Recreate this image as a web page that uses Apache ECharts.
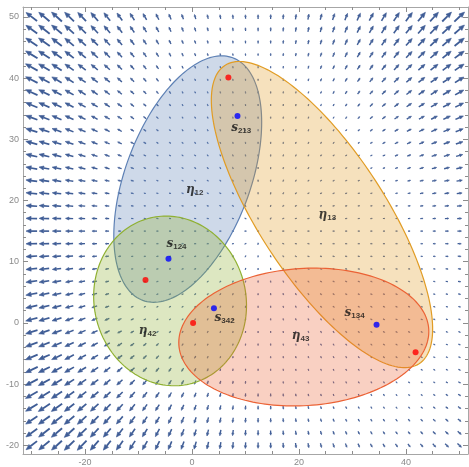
<!DOCTYPE html>
<html>
<head>
<meta charset="utf-8">
<script src="https://cdn.jsdelivr.net/npm/echarts@6/dist/echarts.min.js"></script>
<style>
  html, body { margin: 0; padding: 0; background: #ffffff; }
  #chart { width: 469px; height: 467px; }
</style>
</head>
<body>
<div id="chart"></div>
<script>
// ---- axis ticks ----
const xMajorTicks = [-20, 0, 20, 40];
const xMinorTicks = [-30, -25, -15, -10, -5, 5, 10, 15, 25, 30, 35, 45, 50];
const yMajorTicks = [-20, -10, 0, 10, 20, 30, 40, 50];
const yMinorTicks = [-18, -16, -14, -12, -8, -6, -4, -2, 2, 4, 6, 8, 12, 14, 16, 18,
                     22, 24, 26, 28, 32, 34, 36, 38, 42, 44, 46, 48];

// ---- equilibrium points ----
const redPoints  = [[6.8, 40.1], [-8.7, 7.0], [0.2, 0.0], [41.8, -4.8]];
const bluePoints = [[8.5, 33.8], [-4.4, 10.5], [4.1, 2.4], [34.5, -0.3]];

// ---- regions: centre and two conjugate semi-axis vectors ----
const regionCentres = [[-0.8, 23.5], [24.3, 17.7], [-4.1, 3.6], [20.9, -2.3]];
const regionAxisA   = [[8.41, 19.81], [18.15, -24.36], [-3.63, 13.57], [23.36, 1.29]];
const regionAxisB   = [[10.97, -3.54], [9.93, 5.62], [13.82, 2.80], [0.80, -11.18]];

// ---- labels ----
const labelSymbols = ['η', 's', 'η', 's', 'η', 's', 'η', 's'];
const labelIndices = ['12', '213', '13', '124', '42', '342', '43', '134'];
const labelPlaces  = [[0.5, 21.7], [9.2, 31.8], [25.3, 17.7], [-2.9, 12.9],
                      [-8.3, -1.3], [6.1, 0.9], [20.3, -2.1], [30.4, 1.7]];

// ---- flow field: outward from a source, damped near the wells ----
const fieldSource = [13, 15];
const fieldWells  = [[41.8, -4.8], [6.8, 40.1], [-8.7, 7.0]];
const wellDepth   = [0.85, 0.6, 0.5];
const wellWidth   = [22, 16, 8];
const fieldXRange = [-30, 50];
const fieldYRange = [-20, 50];
const fieldPoints = 35;

function flow(x, y) {
  const dx = x - fieldSource[0], dy = y - fieldSource[1];
  const r = Math.hypot(dx, dy);
  let damp = 1;
  fieldWells.forEach((w, i) => {
    const d2 = (x - w[0]) ** 2 + (y - w[1]) ** 2;
    damp *= 1 - wellDepth[i] * Math.exp(-d2 / (2 * wellWidth[i] ** 2));
  });
  const mag = 0.42 * Math.max(r - 16, 0) * damp;
  const sx = Math.sign(dx) * Math.pow(Math.abs(dx), 1.2);
  const sy = Math.sign(dy) * Math.pow(Math.abs(dy), 1.2);
  const n = Math.hypot(sx, sy) || 1;
  return [sx / n, sy / n, mag];
}

const arrowData = [];
for (let i = 0; i < fieldPoints; i++) {
  for (let j = 0; j < fieldPoints; j++) {
    const x = fieldXRange[0] + i * (fieldXRange[1] - fieldXRange[0]) / (fieldPoints - 1);
    const y = fieldYRange[0] + j * (fieldYRange[1] - fieldYRange[0]) / (fieldPoints - 1);
    const v = flow(x, y);
    arrowData.push([x, y, v[0], v[1], v[2]]);
  }
}

const regionData = regionCentres.map((c, i) => [c[0], c[1], i]);
const labelData = labelPlaces.map((p, i) => ({ value: p, sym: labelSymbols[i], idx: labelIndices[i] }));

const arrowColor = '#3f5d96';
const regionStroke = ['#5E81B5', '#E19C24', '#8FB032', '#EB6235'];
const regionFill = ['rgba(94,129,181,0.3)', 'rgba(225,156,36,0.3)', 'rgba(143,176,50,0.3)', 'rgba(235,98,53,0.3)'];
const frameColor = '#a6a6a6';
const tickColor = '#8c8c8c';
const X_MIN = -31.6, X_MAX = 51.6, Y_MIN = -21.4, Y_MAX = 51.6;

function xAxisDef(position, ticks, len, line, labels) {
  return {
    type: 'value', min: X_MIN, max: X_MAX, position: position,
    axisLine: { show: line, onZero: false, lineStyle: { color: frameColor, width: 1 } },
    axisTick: { show: true, inside: true, length: len, customValues: ticks, lineStyle: { color: tickColor } },
    axisLabel: labels ? { show: true, customValues: ticks, color: '#8a8a8a', fontSize: 9, margin: 4, fontFamily: 'Liberation Sans' } : { show: false },
    splitLine: { show: false }
  };
}
function yAxisDef(position, ticks, len, line, labels) {
  return {
    type: 'value', min: Y_MIN, max: Y_MAX, position: position,
    axisLine: { show: line, onZero: false, lineStyle: { color: frameColor, width: 1 } },
    axisTick: { show: true, inside: true, length: len, customValues: ticks, lineStyle: { color: tickColor } },
    axisLabel: labels ? { show: true, customValues: ticks, color: '#8a8a8a', fontSize: 9, margin: 4, fontFamily: 'Liberation Sans' } : { show: false },
    splitLine: { show: false }
  };
}

const chart = echarts.init(document.getElementById('chart'), null, { renderer: 'canvas' });
chart.setOption({
  animation: false,
  backgroundColor: '#ffffff',
  grid: { left: 23, right: 1, top: 7, bottom: 12 },
  xAxis: [
    xAxisDef('bottom', xMajorTicks, 5, true, true),
    xAxisDef('bottom', xMinorTicks, 3, false, false),
    xAxisDef('top', xMajorTicks, 5, true, false),
    xAxisDef('top', xMinorTicks, 3, false, false)
  ],
  yAxis: [
    yAxisDef('left', yMajorTicks, 5, true, true),
    yAxisDef('left', yMinorTicks, 3, false, false),
    yAxisDef('right', yMajorTicks, 5, true, false),
    yAxisDef('right', yMinorTicks, 3, false, false)
  ],
  series: [
    {
      type: 'custom',
      name: 'field',
      z: 1,
      clip: true,
      data: arrowData,
      renderItem: function (params, api) {
        const p = api.coord([api.value(0), api.value(1)]);
        const dx = api.value(2), dy = -api.value(3);
        const L = Math.max(2, Math.min(14, api.value(4)));
        const tail = [p[0] - dx * L / 2, p[1] - dy * L / 2];
        const tip = [p[0] + dx * L / 2, p[1] + dy * L / 2];
        const headLen = Math.min(L * 0.45, 5.5);
        const headW = headLen * 0.85;
        const base = [tip[0] - dx * headLen, tip[1] - dy * headLen];
        const nx = -dy, ny = dx;
        const children = [];
        if (L > headLen + 0.5) {
          children.push({
            type: 'line',
            shape: { x1: tail[0], y1: tail[1], x2: base[0], y2: base[1] },
            style: { stroke: arrowColor, lineWidth: 1 + L / 16 }
          });
        }
        children.push({
          type: 'polygon',
          shape: { points: [tip, [base[0] + nx * headW / 2, base[1] + ny * headW / 2], [base[0] - nx * headW / 2, base[1] - ny * headW / 2]] },
          style: { fill: arrowColor, stroke: arrowColor, lineWidth: 0.6 }
        });
        return { type: 'group', children: children };
      }
    },
    {
      type: 'custom',
      name: 'regions',
      z: 2,
      data: regionData,
      renderItem: function (params, api) {
        const i = api.value(2);
        const c = regionCentres[i], a = regionAxisA[i], b = regionAxisB[i];
        const pts = [];
        for (let k = 0; k < 180; k++) {
          const t = 2 * Math.PI * k / 180;
          pts.push(api.coord([c[0] + a[0] * Math.cos(t) + b[0] * Math.sin(t),
                              c[1] + a[1] * Math.cos(t) + b[1] * Math.sin(t)]));
        }
        return {
          type: 'polygon',
          shape: { points: pts },
          style: { fill: regionFill[i], stroke: regionStroke[i], lineWidth: 1.2 }
        };
      }
    },
    {
      type: 'scatter', name: 'red', z: 5, data: redPoints,
      symbolSize: 6, itemStyle: { color: '#ff0000' }
    },
    {
      type: 'scatter', name: 'blue', z: 5, data: bluePoints,
      symbolSize: 6, itemStyle: { color: '#0000ff' }
    },
    {
      type: 'scatter', name: 'labels', z: 6, data: labelData,
      symbolSize: 0,
      label: {
        show: true, position: 'inside',
        formatter: function (p) { return '{m|' + p.data.sym + '}{i|' + p.data.idx + '}'; },
        rich: {
          m: { fontFamily: 'DejaVu Serif', fontStyle: 'italic', fontWeight: 'bold', fontSize: 12, color: '#111111', verticalAlign: 'middle', lineHeight: 14 },
          i: { fontFamily: 'Liberation Sans', fontWeight: 'bold', fontSize: 8, color: '#111111', verticalAlign: 'bottom', lineHeight: 8 }
        }
      }
    }
  ]
});
</script>
</body>
</html>
